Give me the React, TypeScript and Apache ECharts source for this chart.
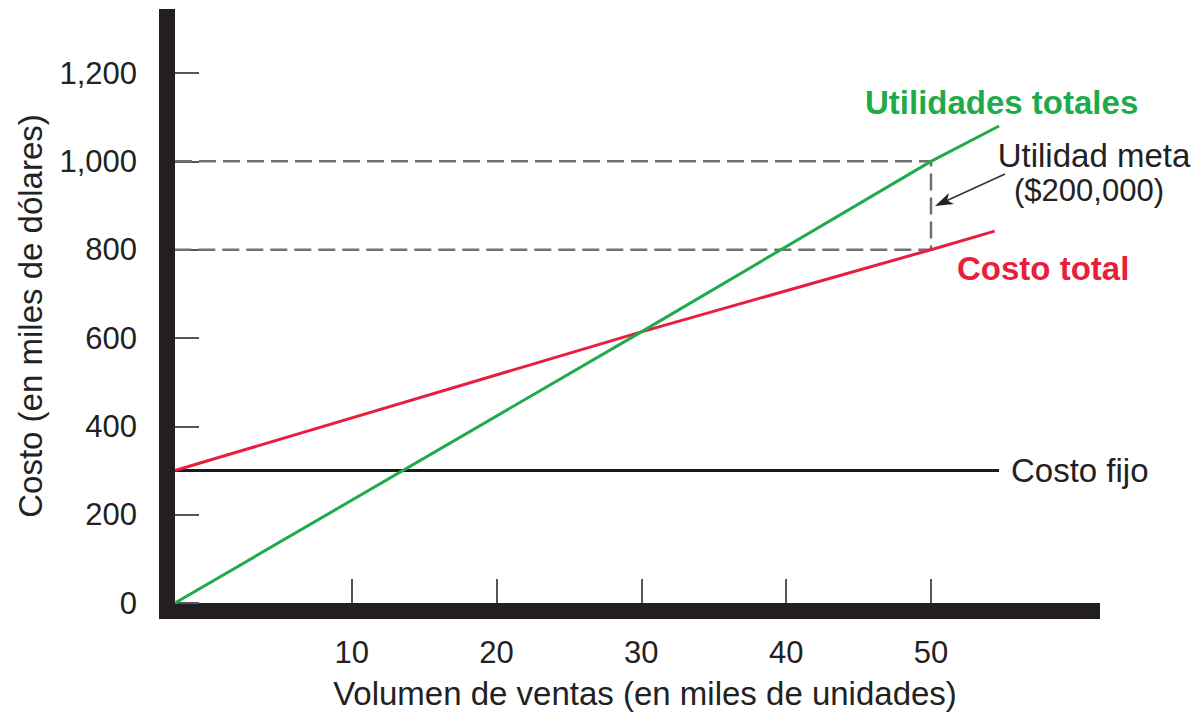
import React, { useEffect, useRef } from "react";
import * as echarts from "echarts";

// Axis ranges (thousands of units / thousands of dollars)
const X_MIN = -2.2;
const X_MAX = 61.67;
const Y_MIN = 0;
const Y_MAX = 1345;

const xTickValues = [10, 20, 30, 40, 50];
const yTickValues = [0, 200, 400, 600, 800, 1000, 1200];

// Series: [volume, value]
const utilidadesTotales: [number, number][] = [
  [-2.2, 0],
  [30, 614],
  [50, 1000],
  [54.7, 1080],
];
const costoTotal: [number, number][] = [
  [-2.2, 300],
  [30, 614],
  [50, 800],
  [54.4, 842],
];
const costoFijo: [number, number][] = [
  [-2.2, 300],
  [54.7, 300],
];
const utilidadMeta: [number, number][] = [
  [-2.2, 1000],
  [50, 1000],
  [50, 800],
  [-2.2, 800],
];

const FONT = "'Liberation Sans', Arial, Helvetica, sans-serif";
const AXIS_BLACK = "#231f20";
const GREEN = "#1fab4a";
const RED = "#e81e3c";

export default function App() {
  const ref = useRef<HTMLDivElement>(null);

  useEffect(() => {
    if (!ref.current) return;
    const chart = echarts.init(ref.current, undefined, { renderer: "svg" });

    const baseX = { type: "value", min: X_MIN, max: X_MAX, position: "bottom" };
    const baseY = { type: "value", min: Y_MIN, max: Y_MAX, position: "left" };

    chart.setOption({
      animation: false,
      backgroundColor: "#ffffff",
      textStyle: { fontFamily: FONT },
      grid: { left: 175, right: 96, top: 9, bottom: 114, containLabel: false },
      xAxis: [
        {
          ...baseX,
          axisLine: { show: false, onZero: false },
          splitLine: { show: false },
          axisTick: {
            show: true,
            inside: true,
            length: 24,
            customValues: xTickValues,
            lineStyle: { color: "#555", width: 2 },
          },
          axisLabel: {
            show: true,
            customValues: xTickValues,
            margin: 34,
            fontSize: 31,
            color: "#222",
            fontFamily: FONT,
          },
        },
        {
          ...baseX,
          offset: 8,
          axisLine: {
            show: true,
            onZero: false,
            lineStyle: { color: AXIS_BLACK, width: 16, cap: "butt" },
          },
          axisTick: { show: false },
          axisLabel: { show: false },
          splitLine: { show: false },
        },
      ],
      yAxis: [
        {
          ...baseY,
          axisLine: { show: false, onZero: false },
          splitLine: { show: false },
          axisTick: {
            show: true,
            inside: true,
            length: 24,
            customValues: yTickValues,
            lineStyle: { color: "#555", width: 2 },
          },
          axisLabel: {
            show: true,
            customValues: yTickValues,
            margin: 38,
            fontSize: 31,
            color: "#222",
            fontFamily: FONT,
            formatter: (v: number) => v.toLocaleString("en-US"),
          },
        },
        {
          ...baseY,
          offset: 8,
          axisLine: {
            show: true,
            onZero: false,
            lineStyle: { color: AXIS_BLACK, width: 16, cap: "butt" },
          },
          axisTick: { show: false },
          axisLabel: { show: false },
          splitLine: { show: false },
        },
      ],
      series: [
        {
          name: "Utilidad meta",
          type: "line",
          data: utilidadMeta,
          symbol: "none",
          lineStyle: { color: "#707070", width: 2.5, type: [17, 7] },
          z: 1,
        },
        {
          name: "Costo fijo",
          type: "line",
          data: costoFijo,
          symbol: "none",
          lineStyle: { color: "#1a1a1a", width: 3 },
          z: 2,
        },
        {
          name: "Costo total",
          type: "line",
          data: costoTotal,
          symbol: "none",
          lineStyle: { color: RED, width: 3 },
          z: 3,
        },
        {
          name: "Utilidades totales",
          type: "line",
          data: utilidadesTotales,
          symbol: "none",
          lineStyle: { color: GREEN, width: 3 },
          z: 4,
        },
      ],
      graphic: [
        {
          type: "rect",
          shape: { x: 159, y: 603, width: 16, height: 16 },
          style: { fill: AXIS_BLACK },
        },
        {
          type: "text",
          x: 30,
          y: 316,
          rotation: Math.PI / 2,
          style: {
            text: "Costo (en miles de dólares)",
            fontSize: 33,
            fontFamily: FONT,
            fill: "#222",
            textAlign: "center",
            textVerticalAlign: "middle",
          },
        },
        {
          type: "text",
          x: 645,
          y: 693,
          style: {
            text: "Volumen de ventas (en miles de unidades)",
            fontSize: 33,
            fontFamily: FONT,
            fill: "#222",
            textAlign: "center",
            textVerticalAlign: "middle",
          },
        },
        {
          type: "text",
          x: 865,
          y: 102,
          style: {
            text: "Utilidades totales",
            fontSize: 33,
            fontWeight: "bold",
            fontFamily: FONT,
            fill: GREEN,
            textAlign: "left",
            textVerticalAlign: "middle",
          },
        },
        {
          type: "text",
          x: 957,
          y: 268,
          style: {
            text: "Costo total",
            fontSize: 33,
            fontWeight: "bold",
            fontFamily: FONT,
            fill: RED,
            textAlign: "left",
            textVerticalAlign: "middle",
          },
        },
        {
          type: "text",
          x: 1011,
          y: 470,
          style: {
            text: "Costo fijo",
            fontSize: 33,
            fontFamily: FONT,
            fill: "#222",
            textAlign: "left",
            textVerticalAlign: "middle",
          },
        },
        {
          type: "text",
          x: 1094,
          y: 155,
          style: {
            text: "Utilidad meta",
            fontSize: 33,
            fontFamily: FONT,
            fill: "#222",
            textAlign: "center",
            textVerticalAlign: "middle",
          },
        },
        {
          type: "text",
          x: 1089,
          y: 190,
          style: {
            text: "($200,000)",
            fontSize: 31,
            fontFamily: FONT,
            fill: "#222",
            textAlign: "center",
            textVerticalAlign: "middle",
          },
        },
        {
          type: "line",
          shape: { x1: 1005, y1: 174, x2: 946, y2: 201 },
          style: { stroke: "#333", lineWidth: 1.6 },
        },
        {
          type: "polygon",
          shape: {
            points: [
              [935, 206],
              [954, 204],
              [947, 200.5],
              [949, 193],
            ],
          },
          style: { fill: "#222" },
        },
      ],
    });

    return () => chart.dispose();
  }, []);

  return (
    <div
      ref={ref}
      style={{ position: "absolute", left: 0, top: 0, width: 1196, height: 717 }}
    />
  );
}
